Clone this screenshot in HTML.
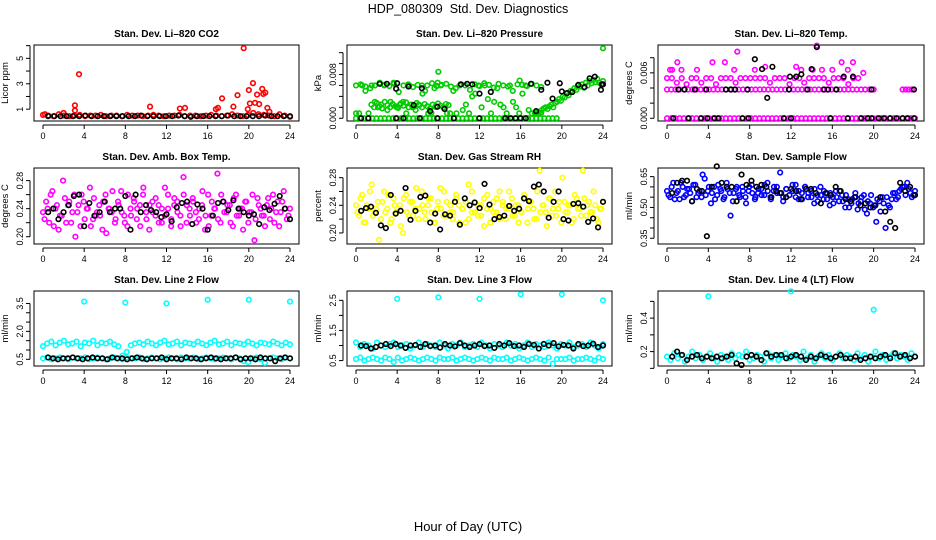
<!DOCTYPE html>
<html><head><meta charset="utf-8"><title>HDP_080309 Std. Dev. Diagnostics</title>
<style>
html,body{margin:0;padding:0;background:#fff;}
svg{display:block;font-family:"Liberation Sans",Arial,sans-serif;}
</style></head>
<body>
<svg id="chart" width="936" height="540" viewBox="0 0 936 540" xmlns="http://www.w3.org/2000/svg">
<rect x="0" y="0" width="936" height="540" fill="#fff"/>
<text x="468" y="13" text-anchor="middle" font-size="12.5" xml:space="preserve">HDP_080309  Std. Dev. Diagnostics</text>
<text x="468" y="531" text-anchor="middle" font-size="13">Hour of Day (UTC)</text>
</svg>
<script>
// ---- data (hours 0..24) ----
const xTicks = [0,4,8,12,16,20,24];
// CO2
const co2RedSpan = [0, 24];
const co2Red = [0.55,0.5,0.45,0.6,0.5,0.45,0.5,0.55,0.45,0.5,0.5,0.55,0.45,0.5,0.5,0.45,0.55,0.5,0.5,0.45,0.5,0.55,0.5,0.45,0.5,0.5,0.55,0.45,0.5,0.5,0.45,0.5,0.55,0.5,0.45,0.5,0.6,0.5,0.45,0.55,0.7,0.6,0.55,0.5,0.45,0.6,0.5,0.4];
const co2RedOutHours = [0.2,2.0,3.1,3.1,3.5,10.4,13.3,13.8,16.8,17.0,17.4,18.5,18.9,19.5,19.9,20.0,20.1,20.4,20.6,20.8,21.0,21.3,21.4,21.6,21.8,22.0];
const co2RedOut = [0.6,0.7,1.3,0.9,3.75,1.2,1.05,1.1,1.0,1.1,1.85,1.2,2.1,5.8,1.0,2.5,1.45,3.05,1.5,2.15,1.4,2.6,2.2,2.3,1.1,0.8];
const co2BlackSpan = [0.5, 24];
const co2Black = [0.45,0.45,0.45,0.45,0.45,0.45,0.5,0.45,0.45,0.45,0.45,0.45,0.45,0.45,0.45,0.5,0.45,0.45,0.45,0.45,0.45,0.5,0.45,0.4,0.45,0.45,0.45,0.45,0.45,0.5,0.45,0.45,0.45,0.45,0.45,0.5,0.45,0.45,0.45,0.45];
// Pressure
const pressZeroSpan = [0, 19.5];
const pressZero = [0,0,0,0,0,0,0,0,0,0,0,0,0,0,0,0,0,0,0,0,0,0,0,0,0,0,0,0,0,0,0,0,0,0,0,0,0,0,0,0,0,0,0,0,0,0,0,0,0,0];
const pressMidSpan = [0, 18];
const pressMid = [0.0009,0.0009,0.006,0.005,0.0009,0.006,0.003,0.002,0.0025,0.006,0.0015,0.003,0.0065,0.002,0.0025,0.003,0.0009,0.006,0.002,0.0015,0.0025,0.006,0.005,0.0009,0.001,0.0055,0.0065,0.006,0.002,0.0009,0.0009,0.005,0.0009,0.006,0.0015,0.0025,0.0009,0.004,0.0045,0.006,0.002,0.006,0.0035,0.0009,0.003,0.0055,0.0025,0.002,0.0009,0.006,0.003,0.002,0.0009,0.0045,0.006,0.0015,0.0009,0.0009,0.0009,0.001];
const pressUpperSpan = [0, 18];
const pressUpper = [0.006,0.0062,0.0058,0.0055,0.006,0.0065,0.0061,0.0059,0.0063,0.0048,0.006,0.0062,0.0057,0.0061,0.0045,0.006,0.0064,0.0059,0.0061,0.0063,0.0058,0.0055,0.0062,0.006,0.0052,0.0062,0.0059,0.0064,0.0061,0.0056,0.0063,0.006,0.0058,0.005,0.0062,0.0061,0.0059,0.0063,0.006,0.0057];
const pressLowSpan = [1.5, 9];
const pressLow = [0.0025,0.002,0.0028,0.0022,0.0018,0.003,0.0024,0.002,0.0026,0.0022,0.0019,0.0027,0.0023,0.0029,0.002,0.0025,0.0021,0.0028,0.0024,0.002,0.0026,0.0022,0.0018,0.0025,0.0021,0.0027,0.0023,0.002,0.0026,0.0024];
const pressLateSpan = [17.5, 24];
const pressLate = [0.001,0.0012,0.0009,0.0015,0.0018,0.002,0.0017,0.0022,0.0025,0.002,0.0028,0.003,0.0035,0.0032,0.004,0.0038,0.0045,0.0042,0.005,0.0048,0.0055,0.0052,0.006,0.0058,0.0062,0.0056,0.0065,0.006,0.0068,0.0064,0.007,0.0066,0.0072,0.0065,0.0062,0.0068];
const pressOutHours = [8,15.9,24];
const pressOut = [0.0085,0.0069,0.0128];
const pressBlackHours = [0.5,1.2,3.9,4.6,6.2,7.9,9.5,12,14.5,15,15.5,16,16.5,2.3,3,3.9,4,5.1,5.6,6.4,7.2,7.9,8.6,10.2,10.8,11.3,12,13.1,17,17.5,18,18.6,19.8,19.1,20,20.5,21,21.6,22.2,22.7,23.2,23.8,23.9,24];
const pressBlack = [0,0,0,0,0,0,0,0,0,0,0,0,0,0.0063,0.0063,0.0054,0.0064,0.0058,0.0024,0.0055,0.0013,0.0021,0.0017,0.0062,0.0063,0.0062,0.0045,0.0048,0.0063,0.0013,0.0052,0.0065,0.0064,0.0036,0.0049,0.0046,0.0048,0.0061,0.0057,0.0073,0.0076,0.0052,0.0062,0.0062];
// Li-820 temp
const tempZeroSpan = [0, 24];
const tempZero = [0,0,0,0,0,0,0,0,0,0,0,0,0,0,0,0,0,0,0,0,0,0,0,0,0,0,0,0,0,0,0,0,0,0,0,0,0,0,0,0,0,0,0,0,0,0,0,0,0,0,0,0,0,0,0,0,0,0,0,0];
const tempMidSpan = [0, 20];
const tempMid = [0.0038,0.0038,0.0038,0.0038,0.0038,0.0038,0.0038,0.0038,0.0038,0.0038,0.0038,0.0038,0.0038,0.0038,0.0038,0.0038,0.0038,0.0038,0.0038,0.0038,0.0038,0.0038,0.0038,0.0038,0.0038,0.0038,0.0038,0.0038,0.0038,0.0038,0.0038,0.0038,0.0038,0.0038,0.0038,0.0038,0.0038,0.0038,0.0038,0.0038,0.0038,0.0038,0.0038,0.0038,0.0038,0.0038,0.0038,0.0038,0.0038,0.0038];
const tempMidLateHours = [22.8,23.1,23.4,23.7];
const tempMidLate = [0.0038,0.0038,0.0038,0.0038];
const tempHighSpan = [0, 18.5];
const tempHigh = [0.0053,0.0053,0.0047,0.0053,0.0045,0.0053,0.0053,0.0047,0.0053,0.0053,0.0045,0.0053,0.0053,0.0053,0.0047,0.0053,0.0053,0.0053,0.0053,0.0053,0.0053,0.0047,0.0053,0.0053,0.0053,0.0045,0.0053,0.0053,0.0047,0.0053,0.0053,0.0053,0.0053,0.0047,0.0053,0.0053,0.0053,0.0045,0.0053,0.0053];
const tempTopHours = [0.3,0.5,1,1.4,2.9,4.4,5.6,6.5,6.8,8.5,9.5,12.5,13,14.1,14.5,15,16,16.9,17.5,18,19];
const tempTop = [0.0064,0.0064,0.0074,0.0064,0.0064,0.0074,0.0074,0.0064,0.0088,0.0064,0.0068,0.0068,0.0064,0.0064,0.0096,0.0064,0.0064,0.0074,0.0064,0.0074,0.006];
const tempBlackHours = [0.6,2.1,3.3,3.9,4.6,5,7.3,7.9,11.3,12,15.8,17.5,18.8,19.4,19.8,20.5,21,21.6,22.2,22.8,23.3,23.9,1.1,1.7,2.7,3.8,5.7,6.2,6.6,7.8,8.5,9.2,9.7,10.2,11.8,11.9,12.5,13,13.6,14,14.5,15.2,15.6,16.4,17.1,18,19.8,23.9];
const tempBlack = [0,0,0,0,0,0,0,0,0,0,0,0,0,0,0,0,0,0,0,0,0,0,0.0038,0.0038,0.0038,0.0038,0.0038,0.0038,0.0038,0.0038,0.0078,0.0065,0.0027,0.0068,0.0038,0.0055,0.0055,0.0058,0.0038,0.0065,0.0094,0.0038,0.0038,0.0038,0.0055,0.0055,0.0038,0.0038];
// Amb box temp
const ambA = [0.235,0.25,0.22,0.265,0.24,0.21,0.23,0.255,0.245,0.22,0.26,0.235,0.215,0.25,0.24,0.27,0.225,0.23,0.245,0.21,0.26,0.24,0.235,0.22,0.25,0.265,0.23,0.215,0.24,0.255,0.225,0.245,0.26,0.235,0.21,0.25,0.23,0.245,0.22,0.27,0.24,0.225,0.255,0.235,0.215,0.26,0.245,0.23,0.25,0.22,0.24,0.265,0.23,0.215,0.25,0.24,0.225,0.26,0.235,0.245,0.22,0.255,0.23,0.24,0.21,0.25,0.235,0.26,0.225,0.245,0.23,0.215,0.255,0.24,0.22,0.25,0.235,0.265,0.225,0.24];
const ambB = [0.225,0.24,0.26,0.215,0.245,0.23,0.28,0.22,0.25,0.235,0.2,0.245,0.26,0.225,0.24,0.215,0.255,0.235,0.23,0.25,0.205,0.24,0.265,0.225,0.245,0.235,0.22,0.26,0.23,0.25,0.24,0.215,0.27,0.225,0.245,0.235,0.255,0.22,0.24,0.23,0.26,0.215,0.245,0.25,0.23,0.285,0.22,0.24,0.255,0.235,0.225,0.245,0.21,0.26,0.23,0.24,0.29,0.22,0.25,0.235,0.245,0.215,0.26,0.23,0.24,0.25,0.22,0.235,0.195,0.255,0.24,0.23,0.245,0.225,0.26,0.235,0.215,0.25,0.24,0.23];
const ambBlackSpan = [0.5, 24];
const ambBlack = [0.235,0.24,0.225,0.235,0.245,0.258,0.26,0.215,0.248,0.23,0.235,0.25,0.235,0.24,0.24,0.258,0.21,0.26,0.235,0.245,0.238,0.235,0.228,0.232,0.222,0.242,0.248,0.25,0.218,0.246,0.24,0.21,0.23,0.248,0.25,0.238,0.252,0.24,0.235,0.23,0.232,0.218,0.242,0.238,0.247,0.258,0.24,0.225];
// Gas stream RH
const rhA = [0.24,0.225,0.255,0.215,0.235,0.27,0.23,0.245,0.22,0.26,0.235,0.215,0.25,0.23,0.24,0.2,0.255,0.225,0.245,0.235,0.22,0.26,0.23,0.24,0.25,0.215,0.235,0.265,0.225,0.245,0.23,0.22,0.255,0.24,0.235,0.215,0.27,0.23,0.245,0.225,0.24,0.21,0.255,0.235,0.23,0.25,0.22,0.245,0.235,0.26,0.225,0.24,0.215,0.23,0.25,0.235,0.245,0.22,0.26,0.23,0.24,0.21,0.25,0.235,0.225,0.245,0.28,0.23,0.24,0.215,0.255,0.235,0.225,0.25,0.24,0.23,0.26,0.22,0.235,0.245];
const rhB = [0.23,0.25,0.215,0.24,0.26,0.225,0.235,0.19,0.245,0.23,0.255,0.22,0.24,0.235,0.21,0.25,0.23,0.245,0.225,0.265,0.235,0.24,0.22,0.25,0.23,0.215,0.245,0.235,0.26,0.225,0.24,0.23,0.25,0.215,0.235,0.245,0.22,0.26,0.23,0.24,0.225,0.25,0.235,0.215,0.245,0.23,0.26,0.24,0.22,0.235,0.25,0.225,0.24,0.23,0.255,0.215,0.245,0.235,0.22,0.29,0.24,0.23,0.25,0.225,0.26,0.235,0.215,0.245,0.23,0.24,0.22,0.25,0.235,0.29,0.225,0.245,0.23,0.24,0.215,0.235];
const rhBlackSpan = [0.5, 24];
const rhBlack = [0.232,0.236,0.238,0.229,0.211,0.207,0.255,0.228,0.232,0.265,0.219,0.232,0.252,0.254,0.215,0.228,0.205,0.227,0.225,0.245,0.212,0.25,0.24,0.244,0.236,0.271,0.241,0.22,0.223,0.225,0.239,0.232,0.235,0.25,0.246,0.267,0.27,0.26,0.222,0.245,0.26,0.22,0.218,0.242,0.243,0.238,0.216,0.221,0.208,0.245];
// Sample flow
const flowA = [0.58,0.55,0.62,0.57,0.54,0.6,0.56,0.59,0.53,0.61,0.57,0.55,0.64,0.58,0.52,0.6,0.56,0.59,0.54,0.62,0.57,0.53,0.59,0.56,0.6,0.55,0.58,0.61,0.54,0.57,0.59,0.56,0.62,0.55,0.58,0.6,0.57,0.53,0.59,0.56,0.61,0.55,0.58,0.54,0.6,0.57,0.55,0.59,0.53,0.56,0.58,0.54,0.57,0.52,0.55,0.58,0.53,0.56,0.5,0.54,0.57,0.52,0.55,0.49,0.53,0.56,0.51,0.54,0.48,0.52,0.55,0.5,0.57,0.54,0.58,0.6,0.56,0.59,0.55,0.58];
const flowB = [0.56,0.6,0.54,0.58,0.62,0.55,0.59,0.57,0.61,0.55,0.58,0.66,0.56,0.6,0.57,0.54,0.61,0.58,0.55,0.59,0.46,0.57,0.6,0.55,0.58,0.52,0.6,0.57,0.55,0.59,0.56,0.61,0.58,0.54,0.6,0.57,0.67,0.55,0.59,0.56,0.58,0.61,0.54,0.57,0.6,0.55,0.58,0.52,0.56,0.6,0.54,0.57,0.51,0.55,0.58,0.53,0.56,0.5,0.54,0.52,0.55,0.49,0.53,0.56,0.47,0.52,0.5,0.43,0.53,0.55,0.4,0.51,0.54,0.57,0.55,0.59,0.6,0.62,0.57,0.56];
const flowBlackSpan = [0.5, 24];
const flowBlack = [0.57,0.62,0.63,0.63,0.53,0.59,0.58,0.36,0.6,0.7,0.62,0.6,0.6,0.53,0.66,0.61,0.63,0.6,0.61,0.6,0.55,0.58,0.57,0.55,0.59,0.58,0.54,0.59,0.59,0.57,0.52,0.57,0.56,0.6,0.58,0.54,0.53,0.55,0.51,0.52,0.5,0.51,0.55,0.48,0.43,0.4,0.62,0.58,0.6,0.56];
// Line 2 flow
const l2UpperSpan = [0, 24];
const l2Upper = [1.2,1.35,1.45,1.25,1.4,1.5,1.3,1.35,1.45,1.2,1.4,1.35,1.5,1.25,1.4,1.35,1.45,1.3,1.2,0.7,0.9,1.25,1.35,1.4,1.3,1.45,1.35,1.25,1.4,1.5,1.3,1.35,1.45,1.25,1.4,1.35,1.3,1.45,1.35,1.25,1.4,1.5,1.3,1.35,1.45,1.25,1.4,1.35,1.3,1.45,1.35,1.25,1.4,1.35,1.3,1.45,1.35,1.25,1.4,1.3];
const l2LowerSpan = [0, 24];
const l2Lower = [0.55,0.6,0.5,0.55,0.6,0.55,0.5,0.6,0.55,0.55,0.6,0.5,0.55,0.6,0.55,0.5,0.55,0.6,0.55,0.5,0.6,0.55,0.55,0.6,0.5,0.55,0.6,0.55,0.5,0.55,0.6,0.55,0.5,0.6,0.55,0.55,0.6,0.5,0.55,0.6,0.55,0.5,0.55,0.6,0.55,0.5,0.6,0.55,0.4,0.35,0.55,0.6,0.5,0.3,0.55,0.6,0.55,0.5,0.6,0.55];
const l2BlackSpan = [0.5, 24];
const l2Black = [0.6,0.55,0.5,0.55,0.55,0.6,0.55,0.5,0.55,0.6,0.55,0.55,0.5,0.6,0.55,0.55,0.5,0.55,0.6,0.55,0.5,0.55,0.55,0.6,0.5,0.55,0.55,0.5,0.6,0.55,0.55,0.5,0.55,0.6,0.55,0.5,0.55,0.55,0.6,0.5,0.55,0.55,0.5,0.6,0.55,0.55,0.4,0.55,0.6,0.55];
const l2OutHours = [4,8,12,16,20,24];
const l2Out = [3.6,3.55,3.5,3.7,3.7,3.6];
// Line 3 flow
const l3UpperSpan = [0, 24];
const l3Upper = [1.1,0.95,1.05,1.0,0.9,1.1,1.0,0.95,1.05,1.1,0.95,1.0,1.05,0.9,1.0,1.1,0.95,1.05,1.0,0.95,1.1,1.0,0.9,1.05,1.0,1.1,0.95,1.0,1.05,0.95,1.1,1.0,0.9,1.05,1.0,0.95,1.1,1.0,1.05,0.9,1.0,1.1,0.95,1.05,1.0,0.95,1.1,1.0,0.9,1.05,1.0,1.1,0.95,1.0,1.05,0.95,1.1,1.0,0.9,1.05];
const l3LowerSpan = [0, 24];
const l3Lower = [0.55,0.6,0.5,0.55,0.6,0.55,0.5,0.6,0.55,0.45,0.6,0.5,0.55,0.6,0.55,0.5,0.55,0.6,0.55,0.5,0.6,0.55,0.55,0.6,0.5,0.55,0.6,0.55,0.5,0.55,0.6,0.55,0.5,0.6,0.55,0.55,0.6,0.5,0.55,0.6,0.55,0.5,0.55,0.6,0.55,0.5,0.6,0.4,0.55,0.55,0.55,0.6,0.5,0.55,0.55,0.6,0.55,0.5,0.6,0.55];
const l3BlackSpan = [0.5, 24];
const l3Black = [1.0,0.98,0.9,0.95,1.0,1.05,0.98,1.05,1.0,0.92,1.0,1.02,0.95,1.05,0.98,1.0,0.93,1.05,1.0,0.97,1.08,1.0,0.95,1.0,1.05,0.98,1.0,0.92,1.05,1.0,1.08,0.98,1.0,0.95,1.05,1.02,0.9,1.05,1.0,1.08,0.97,1.02,1.0,0.9,1.05,0.98,1.0,1.06,0.95,1.0];
const l3OutHours = [4,8,12,16,20,24];
const l3Out = [2.55,2.6,2.55,2.7,2.7,2.5];
// Line 4 flow
const l4Span = [0, 24];
const l4Cyan = [0.17,0.15,0.19,0.16,0.18,0.14,0.17,0.2,0.16,0.18,0.15,0.17,0.19,0.16,0.14,0.18,0.17,0.15,0.19,0.16,0.18,0.17,0.2,0.15,0.16,0.18,0.17,0.14,0.19,0.16,0.18,0.15,0.17,0.19,0.16,0.18,0.17,0.15,0.2,0.16,0.18,0.14,0.17,0.19,0.16,0.18,0.15,0.17,0.19,0.16,0.18,0.17,0.15,0.19,0.16,0.18,0.14,0.17,0.2,0.16,0.18,0.15,0.17,0.19,0.16,0.18,0.17,0.15,0.19,0.17];
const l4BlackSpan = [0.5, 24];
const l4Black = [0.17,0.2,0.18,0.15,0.17,0.18,0.16,0.17,0.16,0.17,0.16,0.17,0.18,0.13,0.12,0.17,0.18,0.17,0.15,0.19,0.17,0.18,0.18,0.16,0.17,0.18,0.17,0.15,0.17,0.16,0.18,0.17,0.16,0.17,0.18,0.16,0.16,0.17,0.15,0.16,0.17,0.16,0.17,0.18,0.16,0.19,0.17,0.18,0.16,0.17];
const l4OutHours = [4,12,20];
const l4Out = [0.53,0.56,0.45];

// ---- rendering ----
const NS = 'http://www.w3.org/2000/svg';
const svg = document.getElementById('chart');
const COLS = [[34,299],[347,612],[658,924]];
const ROWS = [[45,121],[168,244],[291,366]];
function mk(tag, attrs, parent){
  const e = document.createElementNS(NS, tag);
  for (const k in attrs) e.setAttribute(k, attrs[k]);
  (parent||svg).appendChild(e);
  return e;
}
function panel(col,row,name,title,ylab,ydom,ticks,labels){
  const [x0,x1] = COLS[col], [y0,y1] = ROWS[row];
  const g = mk('g',{});
  
  
  const sx = h => x0 + 9 + (h/24)*(x1-x0-18);
  const sy = v => y1 - (v-ydom[0])/(ydom[1]-ydom[0])*(y1-y0);
  const t = mk('text',{x:(x0+x1)/2,y:y0-8,'text-anchor':'middle','font-size':10,'font-weight':'bold'},g);
  t.textContent = title;
  
  
  const box = mk('rect',{x:x0,y:y0,width:x1-x0,height:y1-y0,fill:'none',stroke:'#000','stroke-width':1},g);
  
  
  const xa = mk('g',{},g);
  
  
  mk('line',{x1:sx(xTicks[0]),x2:sx(xTicks[xTicks.length-1]),y1:y1+4,y2:y1+4,stroke:'#000'},xa);
  xTicks.forEach(h=>{
    mk('line',{x1:sx(h),x2:sx(h),y1:y1+4,y2:y1+8,stroke:'#000'},xa);
    const l = mk('text',{x:sx(h),y:y1+18,'text-anchor':'middle','font-size':9},xa);
    l.textContent = h;
    
    
  });
  const ya = mk('g',{},g);
  
  
  mk('line',{x1:x0-4,x2:x0-4,y1:sy(ticks[0]),y2:sy(ticks[ticks.length-1]),stroke:'#000'},ya);
  ticks.forEach(v=>mk('line',{x1:x0-8,x2:x0-4,y1:sy(v),y2:sy(v),stroke:'#000'},ya));
  labels.forEach(v=>{
    const tx = x0-11, ty = sy(v);
    const l = mk('text',{x:tx,y:ty,'text-anchor':'middle','font-size':9,transform:`rotate(-90 ${tx} ${ty})`},ya);
    l.textContent = v;
    
    
  });
  const yx = x0-26, yy = (y0+y1)/2;
  const yl = mk('text',{x:yx,y:yy,'text-anchor':'middle','font-size':9.5,transform:`rotate(-90 ${yx} ${yy})`},g);
  yl.textContent = ylab;
  
  
  const pts = mk('g',{},g);
  
  
  return {sx,sy,pts};
}
function dots(p, hours, vals, color){
  vals.forEach((v,i)=>{
    const c = mk('circle',{cx:p.sx(hours[i]).toFixed(2),cy:p.sy(v).toFixed(2),r:2.3,fill:'none',stroke:color,'stroke-width':1.6},p.pts);
    
    
  });
}
function spanDots(p, span, vals, color){
  const n = vals.length;
  const hours = vals.map((_,i)=> span[0] + (n>1 ? i*(span[1]-span[0])/(n-1) : 0));
  dots(p, hours, vals, color);
}
const FULL = [0,24], HALF = [0.15,23.85];

let p = panel(0,0,'co2','Stan. Dev. Li\u2013820 CO2','Licor ppm',[0.07,6.05],[1,2,3,4,5,6],[1,3,5]);
spanDots(p, co2RedSpan, co2Red, '#ff0000');
dots(p, co2RedOutHours, co2RedOut, '#ff0000');
spanDots(p, co2BlackSpan, co2Black, '#000');

p = panel(1,0,'pressure','Stan. Dev. Li\u2013820 Pressure','kPa',[-0.0005,0.0134],[0,0.002,0.004,0.006,0.008,0.010,0.012],['0.000','0.008']);
spanDots(p, pressZeroSpan, pressZero, '#00cc00');
spanDots(p, pressMidSpan, pressMid, '#00cc00');
spanDots(p, pressUpperSpan, pressUpper, '#00cc00');
spanDots(p, pressLowSpan, pressLow, '#00cc00');
spanDots(p, pressLateSpan, pressLate, '#00cc00');
dots(p, pressOutHours, pressOut, '#00cc00');
dots(p, pressBlackHours, pressBlack, '#000');

p = panel(2,0,'li820-temp','Stan. Dev. Li\u2013820 Temp.','degrees C',[-0.00036,0.00968],[0,0.002,0.004,0.006,0.008],['0.000','0.006']);
spanDots(p, tempZeroSpan, tempZero, '#ff00ff');
spanDots(p, tempMidSpan, tempMid, '#ff00ff');
dots(p, tempMidLateHours, tempMidLate, '#ff00ff');
spanDots(p, tempHighSpan, tempHigh, '#ff00ff');
dots(p, tempTopHours, tempTop, '#ff00ff');
dots(p, tempBlackHours, tempBlack, '#000');

p = panel(0,1,'amb-box-temp','Stan. Dev. Amb. Box Temp.','degrees C',[0.1896,0.298],[0.20,0.22,0.24,0.26,0.28],['0.20','0.24','0.28']);
spanDots(p, FULL, ambA, '#ff00ff');
spanDots(p, HALF, ambB, '#ff00ff');
spanDots(p, ambBlackSpan, ambBlack, '#000');

p = panel(1,1,'gas-stream-rh','Stan. Dev. Gas Stream RH','percent',[0.184,0.294],[0.20,0.22,0.24,0.26,0.28],['0.20','0.24','0.28']);
spanDots(p, FULL, rhA, '#ffff00');
spanDots(p, HALF, rhB, '#ffff00');
spanDots(p, rhBlackSpan, rhBlack, '#000');

p = panel(2,1,'sample-flow','Stan. Dev. Sample Flow','ml/min',[0.322,0.692],[0.35,0.40,0.45,0.50,0.55,0.60,0.65],['0.35','0.50','0.65']);
spanDots(p, FULL, flowA, '#0000ff');
spanDots(p, HALF, flowB, '#0000ff');
spanDots(p, flowBlackSpan, flowBlack, '#000');

p = panel(0,2,'line2-flow','Stan. Dev. Line 2 Flow','ml/min',[0.14,4.17],[0.5,1.0,1.5,2.0,2.5,3.0,3.5],['0.5','2.0','3.5']);
spanDots(p, l2UpperSpan, l2Upper, '#00ffff');
spanDots(p, l2LowerSpan, l2Lower, '#00ffff');
dots(p, l2OutHours, l2Out, '#00ffff');
spanDots(p, l2BlackSpan, l2Black, '#000');

p = panel(1,2,'line3-flow','Stan. Dev. Line 3 Flow','ml/min',[0.32,2.81],[0.5,1.0,1.5,2.0,2.5],['0.5','1.5','2.5']);
spanDots(p, l3UpperSpan, l3Upper, '#00ffff');
spanDots(p, l3LowerSpan, l3Lower, '#00ffff');
dots(p, l3OutHours, l3Out, '#00ffff');
spanDots(p, l3BlackSpan, l3Black, '#000');

p = panel(2,2,'line4-flow','Stan. Dev. Line 4 (LT) Flow','ml/min',[0.114,0.562],[0.1,0.2,0.3,0.4,0.5],['0.2','0.4']);
spanDots(p, l4Span, l4Cyan, '#00ffff');
dots(p, l4OutHours, l4Out, '#00ffff');
spanDots(p, l4BlackSpan, l4Black, '#000');
</script>
</body></html>
